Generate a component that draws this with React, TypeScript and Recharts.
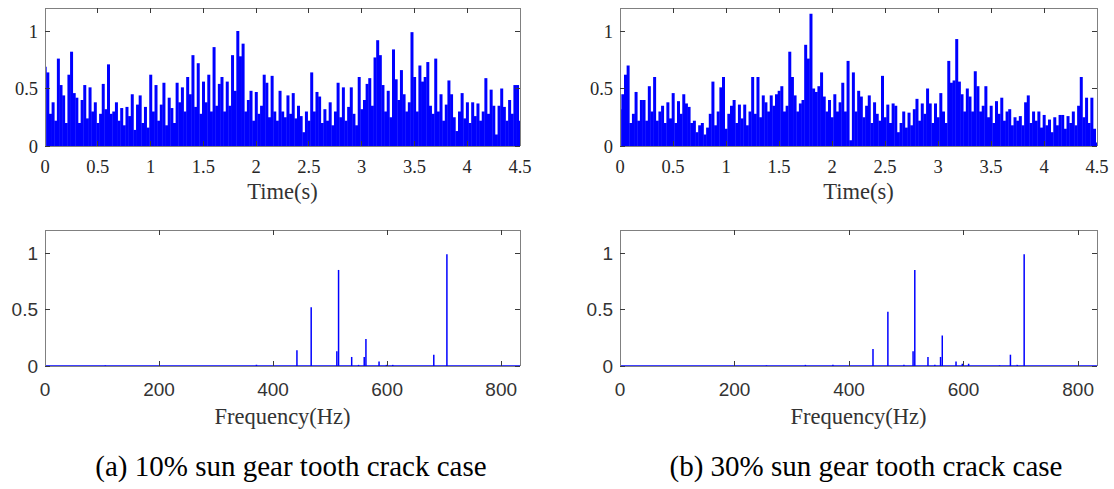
import React from 'react';
import { BarChart, Bar, XAxis, YAxis, ReferenceLine } from 'recharts';

// envelope signals, one sample every 25 ms from 0 to 4.5 s
const sampleStep = 0.025;

const envelopeA = [
  0.69, 0.64, 0.28, 0.38, 0.22, 0.76, 0.53, 0.44, 0.2, 0.62,
  0.82, 0.46, 0.42, 0.2, 0.4, 0.53, 0.24, 0.51, 0.3, 0.38,
  0.2, 0.28, 0.54, 0.32, 0.71, 0.28, 0.3, 0.38, 0.22, 0.33,
  0.18, 0.34, 0.26, 0.45, 0.14, 0.36, 0.44, 0.2, 0.34, 0.16,
  0.62, 0.3, 0.53, 0.22, 0.36, 0.55, 0.18, 0.42, 0.33, 0.2,
  0.55, 0.38, 0.51, 0.3, 0.6, 0.45, 0.79, 0.34, 0.72, 0.28,
  0.56, 0.38, 0.62, 0.3, 0.86, 0.35, 0.54, 0.6, 0.3, 0.56,
  0.35, 0.79, 0.48, 1.0, 0.78, 0.89, 0.3, 0.4, 0.48, 0.22,
  0.47, 0.28, 0.35, 0.62, 0.55, 0.25, 0.61, 0.3, 0.22, 0.48,
  0.3, 0.25, 0.44, 0.28, 0.46, 0.24, 0.35, 0.26, 0.12, 0.3,
  0.22, 0.64, 0.3, 0.47, 0.43, 0.2, 0.32, 0.22, 0.38, 0.18,
  0.3, 0.55, 0.25, 0.51, 0.22, 0.34, 0.51, 0.28, 0.18, 0.6,
  0.32, 0.4, 0.54, 0.59, 0.35, 0.77, 0.92, 0.79, 0.53, 0.3,
  0.48, 0.25, 0.84, 0.58, 0.4, 0.66, 0.45, 0.3, 0.38, 0.99,
  0.6, 0.3, 0.7, 0.56, 0.6, 0.73, 0.35, 0.28, 0.76, 0.3,
  0.45, 0.22, 0.36, 0.57, 0.45, 0.25, 0.13, 0.3, 0.46, 0.24,
  0.38, 0.2, 0.38, 0.26, 0.37, 0.22, 0.3, 0.59, 0.28, 0.49,
  0.35, 0.1, 0.35, 0.5, 0.34, 0.22, 0.4, 0.28, 0.53, 0.53,
  0.22,
];

const envelopeB = [
  0.32, 0.45, 0.62, 0.7, 0.2, 0.28, 0.47, 0.22, 0.4, 0.4,
  0.22, 0.52, 0.3, 0.6, 0.22, 0.3, 0.35, 0.2, 0.38, 0.24,
  0.46, 0.2, 0.39, 0.28, 0.45, 0.37, 0.34, 0.2, 0.22, 0.12,
  0.18, 0.2, 0.1, 0.16, 0.28, 0.56, 0.18, 0.3, 0.51, 0.6,
  0.15, 0.28, 0.35, 0.4, 0.2, 0.36, 0.24, 0.36, 0.18, 0.3,
  0.6, 0.28, 0.6, 0.25, 0.44, 0.38, 0.3, 0.44, 0.35, 0.45,
  0.48, 0.52, 0.3, 0.35, 0.82, 0.6, 0.44, 0.3, 0.37, 0.4,
  0.88, 0.76, 1.15, 0.5, 0.47, 0.52, 0.64, 0.43, 0.3, 0.4,
  0.25, 0.45, 0.3, 0.38, 0.55, 0.3, 0.74, 0.05, 0.64, 0.3,
  0.48, 0.43, 0.25, 0.35, 0.44, 0.2, 0.38, 0.28, 0.22, 0.61,
  0.25, 0.36, 0.2, 0.37, 0.35, 0.12, 0.2, 0.3, 0.16, 0.29,
  0.18, 0.32, 0.41, 0.22, 0.37, 0.28, 0.5, 0.37, 0.2, 0.37,
  0.25, 0.46, 0.3, 0.2, 0.74, 0.55, 0.57, 0.93, 0.56, 0.45,
  0.3, 0.5, 0.43, 0.3, 0.65, 0.52, 0.3, 0.35, 0.52, 0.25,
  0.35, 0.2, 0.39, 0.28, 0.42, 0.22, 0.3, 0.32, 0.18, 0.25,
  0.22, 0.26, 0.18, 0.38, 0.44, 0.2, 0.3, 0.22, 0.3, 0.16,
  0.27, 0.18, 0.23, 0.12, 0.25, 0.18, 0.27, 0.27, 0.15, 0.26,
  0.2, 0.3, 0.18, 0.35, 0.6, 0.25, 0.42, 0.2, 0.42, 0.15,
  0.03,
];

// envelope spectra: peak frequencies (Hz) and normalised amplitudes
const spectrumFreqA = [106, 371, 442, 467, 512, 515, 538, 550, 560, 563, 586, 599, 610, 682, 705];
const spectrumAmpA = [0.005, 0.01, 0.14, 0.52, 0.13, 0.85, 0.08, 0.01, 0.08, 0.24, 0.04, 0.01, 0.01, 0.1, 0.99];

const spectrumFreqB = [256, 324, 372, 442, 468, 496, 512, 515, 538, 550, 560, 563, 587, 598, 609, 663, 682, 694, 706];
const spectrumAmpB = [0.005, 0.01, 0.01, 0.15, 0.48, 0.01, 0.13, 0.85, 0.08, 0.01, 0.08, 0.27, 0.04, 0.02, 0.02, 0.005, 0.1, 0.01, 0.99];

const timeTicks = [0, 0.5, 1, 1.5, 2, 2.5, 3, 3.5, 4, 4.5];
const freqTicks = [0, 200, 400, 600, 800];
const ampTicks = [0, 0.5, 1];

const captions = ['(a) 10% sun gear tooth crack case', '(b) 30% sun gear tooth crack case'];

const timeRows = (values: number[]) => values.map((y, i) => ({ x: +(i * sampleStep).toFixed(3), y }));
const freqRows = (freqs: number[], amps: number[]) => freqs.map((x, i) => ({ x, y: amps[i] }));

const frameColor = '#808080';
const tickColor = '#3a3a3a';
const blue = '#0000ff';
const serif = 'Liberation Serif';
const sans = 'Liberation Sans';

const frameLine = { stroke: frameColor, shapeRendering: 'crispEdges' };
const tickLine = { stroke: tickColor, shapeRendering: 'crispEdges' };

interface PanelProps {
  rows: { x: number; y: number }[];
  left: number;
  top: number;
  width: number;
  height: number;
  marginTop: number;
  xAxisHeight: number;
  xDomain: [number, number];
  xTicks: number[];
  xLabel: string;
  spectrum?: boolean;
}

function Panel({ rows, left, top, width, height, marginTop, xAxisHeight, xDomain, xTicks, xLabel, spectrum }: PanelProps) {
  const tickFont = spectrum ? sans : serif;
  const tickSize = spectrum ? 19 : 18.5;
  const tickStyle = { fill: spectrum ? '#333333' : '#262626', fontSize: tickSize, fontFamily: tickFont };

  return (
    <div style={{ position: 'absolute', left, top, width, height, fontFamily: tickFont, fontSize: tickSize }}>
      <BarChart
        width={width}
        height={height}
        data={rows}
        margin={{ top: marginTop, right: 19, bottom: 0, left: 0 }}
        barCategoryGap={0}
        barGap={0}
      >
        <XAxis
          dataKey="x"
          type="number"
          domain={xDomain}
          ticks={xTicks}
          interval={0}
          allowDataOverflow
          height={xAxisHeight}
          axisLine={frameLine}
          tickLine={tickLine}
          tickSize={-5}
          tickMargin={spectrum ? 21.5 : 19}
          tick={tickStyle}
          label={{
            value: xLabel,
            position: 'insideBottom',
            offset: 6,
            fill: '#333333',
            fontSize: 22.5,
            fontFamily: serif,
          }}
        />
        <XAxis
          xAxisId="top"
          dataKey="x"
          orientation="top"
          type="number"
          domain={xDomain}
          ticks={xTicks}
          interval={0}
          allowDataOverflow
          height={1}
          axisLine={frameLine}
          tickLine={tickLine}
          tickSize={-5}
          tickFormatter={() => ''}
        />
        <YAxis
          type="number"
          domain={[0, 1.2]}
          ticks={ampTicks}
          interval={0}
          allowDataOverflow
          width={45}
          axisLine={frameLine}
          tickLine={tickLine}
          tickSize={-5}
          tickMargin={12}
          tick={tickStyle}
        />
        <YAxis
          yAxisId="right"
          dataKey="y"
          orientation="right"
          type="number"
          domain={[0, 1.2]}
          ticks={ampTicks}
          interval={0}
          allowDataOverflow
          width={1}
          axisLine={frameLine}
          tickLine={tickLine}
          tickSize={-5}
          tickFormatter={() => ''}
        />
        <Bar dataKey="y" fill={blue} barSize={spectrum ? 1.5 : undefined} isAnimationActive={false} />
        {spectrum && <ReferenceLine y={0} stroke={blue} strokeWidth={1.5} />}
      </BarChart>
    </div>
  );
}

export default function App() {
  return (
    <div style={{ position: 'absolute', left: 0, top: 0, width: 1114, height: 489, background: '#fff' }}>
      <Panel
        rows={timeRows(envelopeA)}
        left={0} top={0} width={540} height={205}
        marginTop={7} xAxisHeight={59}
        xDomain={[0, 4.5]} xTicks={timeTicks} xLabel="Time(s)"
      />
      <Panel
        rows={timeRows(envelopeB)}
        left={575} top={0} width={542} height={205}
        marginTop={7} xAxisHeight={59}
        xDomain={[0, 4.5]} xTicks={timeTicks} xLabel="Time(s)"
      />
      <Panel
        rows={freqRows(spectrumFreqA, spectrumAmpA)}
        left={0} top={220} width={540} height={210}
        marginTop={9.4} xAxisHeight={64}
        xDomain={[0, 833]} xTicks={freqTicks} xLabel="Frequency(Hz)" spectrum
      />
      <Panel
        rows={freqRows(spectrumFreqB, spectrumAmpB)}
        left={575} top={220} width={542} height={210}
        marginTop={9.4} xAxisHeight={64}
        xDomain={[0, 833]} xTicks={freqTicks} xLabel="Frequency(Hz)" spectrum
      />
      <svg width={1114} height={489} style={{ position: 'absolute', left: 0, top: 0, pointerEvents: 'none' }}>
        <text x={291} y={476} textAnchor="middle" style={{ fontFamily: serif, fontSize: 29 }} fill="#000">
          {captions[0]}
        </text>
        <text x={866} y={476} textAnchor="middle" style={{ fontFamily: serif, fontSize: 29 }} fill="#000">
          {captions[1]}
        </text>
      </svg>
    </div>
  );
}
